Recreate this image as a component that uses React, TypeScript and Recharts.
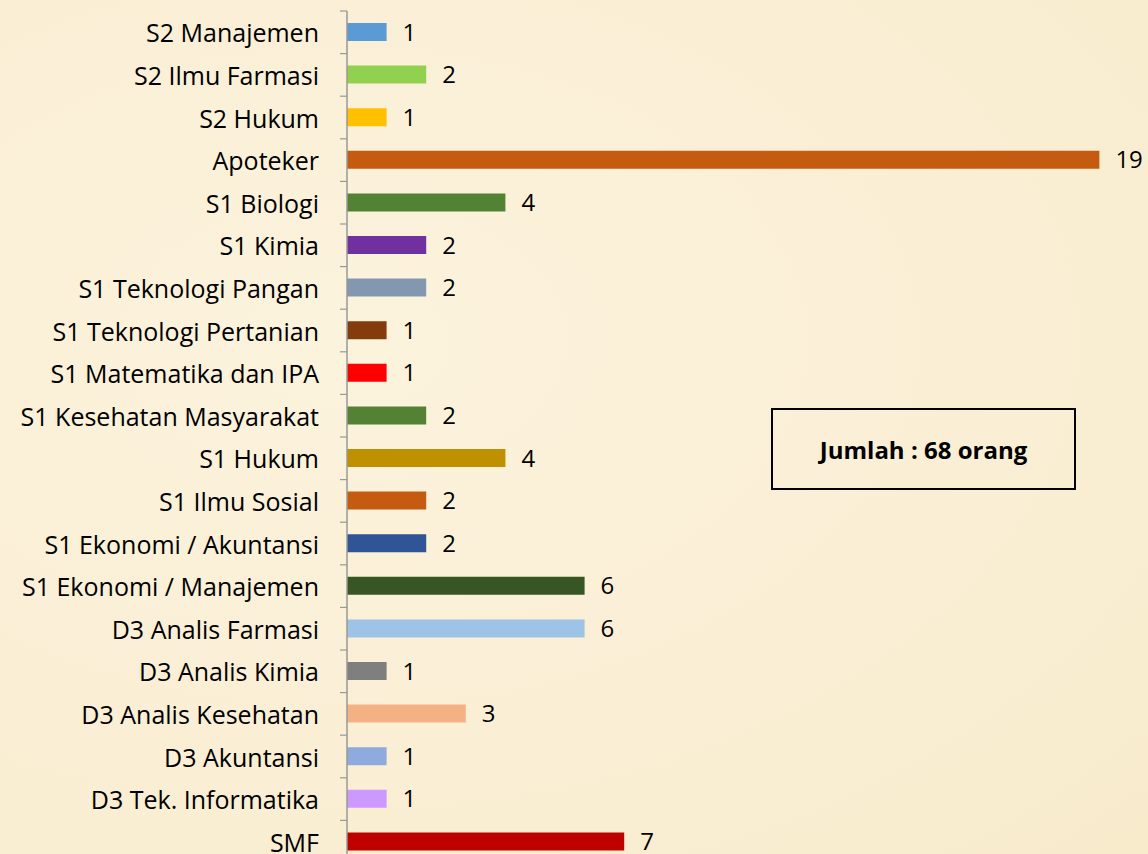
import { BarChart, Bar, XAxis, YAxis, Cell, LabelList } from "recharts";

const categories = [
  "S2 Manajemen",
  "S2 Ilmu Farmasi",
  "S2 Hukum",
  "Apoteker",
  "S1 Biologi",
  "S1 Kimia",
  "S1 Teknologi Pangan",
  "S1 Teknologi Pertanian",
  "S1 Matematika dan IPA",
  "S1 Kesehatan Masyarakat",
  "S1 Hukum",
  "S1 Ilmu Sosial",
  "S1 Ekonomi / Akuntansi",
  "S1 Ekonomi / Manajemen",
  "D3 Analis Farmasi",
  "D3 Analis Kimia",
  "D3 Analis Kesehatan",
  "D3 Akuntansi",
  "D3 Tek. Informatika",
  "SMF",
];

const counts = [1, 2, 1, 19, 4, 2, 2, 1, 1, 2, 4, 2, 2, 6, 6, 1, 3, 1, 1, 7];

const barColors = [
  "#5B9BD5",
  "#92D050",
  "#FFC000",
  "#C55A11",
  "#548235",
  "#7030A0",
  "#8497B0",
  "#843C0C",
  "#FF0000",
  "#548235",
  "#BF9000",
  "#C55A11",
  "#2F5597",
  "#375623",
  "#9DC3E6",
  "#7F7F7F",
  "#F4B183",
  "#8FAADC",
  "#CC99FF",
  "#C00000",
];

const totalLabel = "Jumlah : 68 orang";

const data = categories.map((name, i) => ({ name, jumlah: counts[i] }));

const FONT = "'Open Sans', 'Noto Sans', sans-serif";
const CHART_H = 880;
const MARGIN_TOP = 11;
const MARGIN_BOTTOM = 17;
const band = (CHART_H - MARGIN_TOP - MARGIN_BOTTOM) / categories.length;

function CategoryTick(props: any) {
  const { x, y, payload } = props;
  const top = y - band / 2;
  return (
    <g>
      <line x1={x + 21} x2={x + 28} y1={top} y2={top} stroke="#999" strokeWidth={1.2} />
      <text
        x={x}
        y={y}
        textAnchor="end"
        dominantBaseline="central"
        fontSize={25}
        fontFamily={FONT}
        fill="#000"
      >
        {payload.value}
      </text>
    </g>
  );
}

export default function App() {
  return (
    <div
      style={{
        position: "absolute",
        left: 0,
        top: 0,
        width: 1148,
        height: 854,
        overflow: "hidden",
        background:
          "radial-gradient(ellipse at 30% 40%, #FCF3DD 0%, #FAEFD5 55%, #F8EBCC 100%)",
      }}
    >
      <BarChart
        width={1148}
        height={CHART_H}
        data={data}
        layout="vertical"
        margin={{ top: MARGIN_TOP, right: 9, bottom: MARGIN_BOTTOM, left: 0 }}
        barCategoryGap={0}
      >
        <XAxis type="number" domain={[0, 20]} hide />
        <YAxis
          type="category"
          dataKey="name"
          width={347}
          axisLine={{ stroke: "#999", strokeWidth: 1.5 }}
          tickLine={false}
          tickMargin={22}
          tick={<CategoryTick />}
          interval={0}
        />
        <Bar dataKey="jumlah" barSize={18} isAnimationActive={false}>
          {data.map((d, i) => (
            <Cell key={d.name} fill={barColors[i]} />
          ))}
          <LabelList
            dataKey="jumlah"
            position="right"
            offset={16}
            fontSize={24}
            fontFamily={FONT}
            fill="#000"
          />
        </Bar>
      </BarChart>
      <div
        style={{
          position: "absolute",
          left: 771,
          top: 408,
          width: 301,
          height: 78,
          border: "2px solid #000",
          display: "flex",
          alignItems: "center",
          justifyContent: "center",
          fontFamily: FONT,
          fontWeight: 700,
          fontSize: 24,
          color: "#000",
        }}
      >
        {totalLabel}
      </div>
    </div>
  );
}
